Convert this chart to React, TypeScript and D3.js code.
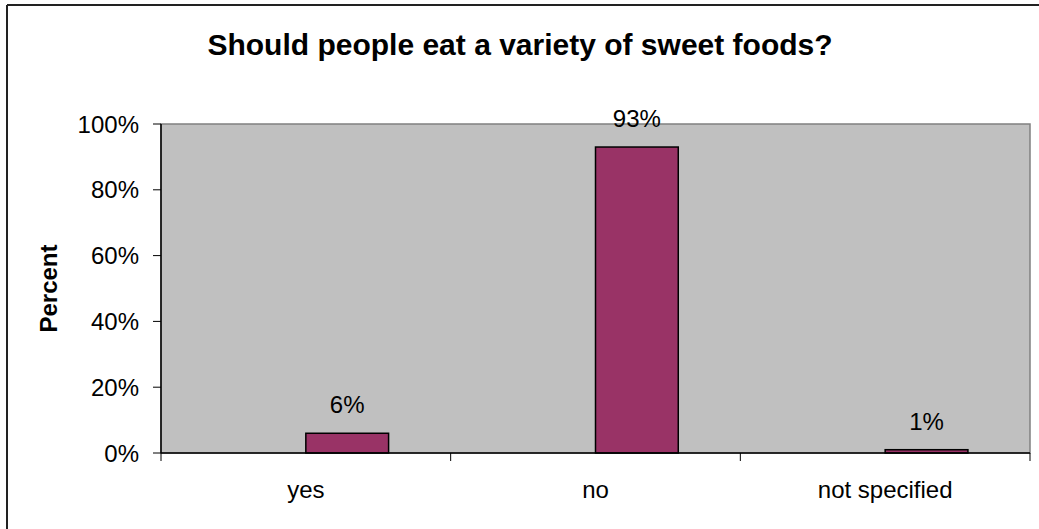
import React from "react";
import * as d3 from "d3";

const categories = ["yes", "no", "not specified"];
const values = [0.06, 0.93, 0.01];
const valueLabels = ["6%", "93%", "1%"];
const yTicks = [0, 0.2, 0.4, 0.6, 0.8, 1.0];
const title = "Should people eat a variety of sweet foods?";
const yTitle = "Percent";

export default function App() {
  const W = 1039, H = 529;
  const left = 161, right = 1030, top = 124, bottom = 453;
  const x = d3.scaleBand().domain(categories).range([left, right]).paddingInner(0).paddingOuter(0);
  const y = d3.scaleLinear().domain([0, 1]).range([bottom, top]);
  const bw = x.bandwidth();
  const barW = bw / 3.5;
  const font = "Arial, 'Liberation Sans', sans-serif";
  const boundaries = [left, ...categories.map((c) => (x(c) as number) + bw)];
  return (
    <svg width={W} height={H} style={{ position: "absolute", left: 0, top: 0, background: "#fff" }} fontFamily={font}>
      <line x1={7} y1={5} x2={W} y2={5} stroke="#222" strokeWidth={2} />
      <line x1={7} y1={5} x2={7} y2={H} stroke="#222" strokeWidth={2} />
      <text x={520} y={55} textAnchor="middle" fontSize={30} fontWeight="bold" fill="#000">{title}</text>
      <rect x={left} y={top} width={right - left} height={bottom - top} fill="#C0C0C0" stroke="#808080" strokeWidth={1.5} />
      {yTicks.map((t) => (
        <g key={t}>
          <line x1={left - 8} x2={left} y1={y(t)} y2={y(t)} stroke="#000" strokeWidth={1} />
          <text x={139} y={y(t)} dy="0.36em" textAnchor="end" fontSize={24} fill="#000">{d3.format(".0%")(t)}</text>
        </g>
      ))}
      {boundaries.map((b, i) => (
        <line key={i} x1={b} x2={b} y1={bottom} y2={bottom + 8} stroke="#000" strokeWidth={1} />
      ))}
      {categories.map((c, i) => {
        const cx = (x(c) as number) + bw / 2;
        return (
          <g key={c}>
            <rect x={cx} y={y(values[i])} width={barW} height={bottom - y(values[i])} fill="#993366" stroke="#000" strokeWidth={1.5} />
            <text x={cx + barW / 2} y={y(values[i]) - 20} textAnchor="middle" fontSize={24} fill="#000">{valueLabels[i]}</text>
            <text x={cx} y={498} textAnchor="middle" fontSize={24} fill="#000">{c}</text>
          </g>
        );
      })}
      <line x1={left} x2={left} y1={top} y2={bottom} stroke="#000" strokeWidth={1.5} />
      <line x1={left} x2={right} y1={bottom} y2={bottom} stroke="#000" strokeWidth={1.5} />
      <text transform={`translate(57,${(top + bottom) / 2}) rotate(-90)`} textAnchor="middle" fontSize={24} fontWeight="bold" fill="#000">{yTitle}</text>
    </svg>
  );
}
